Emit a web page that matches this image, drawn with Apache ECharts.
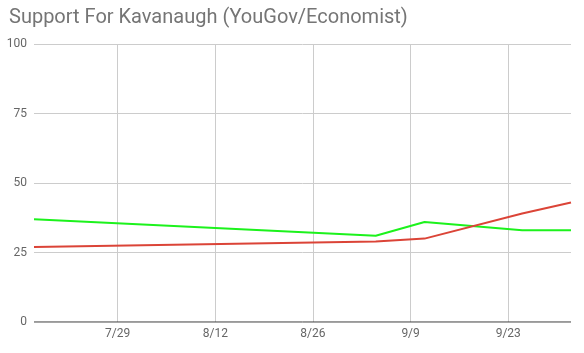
<!DOCTYPE html>
<html>
<head>
<meta charset="utf-8">
<script src="https://cdn.jsdelivr.net/npm/echarts@6/dist/echarts.min.js"></script>
<style>
  html, body { margin: 0; padding: 0; background: #fff; }
  #chart { width: 584px; height: 353px; }
</style>
</head>
<body>
<div id="chart"></div>
<script>
// poll dates (2018) and support values
const pollDates = ['2018-07-17', '2018-09-04', '2018-09-11', '2018-09-25', '2018-10-02']
const greenValues = [37, 31, 36, 33, 33]
const redValues = [27, 29, 30, 39, 43]
const tickDates = ['2018-07-29', '2018-08-12', '2018-08-26', '2018-09-09', '2018-09-23']
const yTicks = [0, 25, 50, 75, 100]

// x positions are whole days counted from the first tick date
const DAY = 86400000
const toTime = s => {
  const p = s.split('-').map(Number)
  return Date.UTC(p[0], p[1] - 1, p[2])
}
const origin = toTime(tickDates[0])
const toDay = s => Math.round((toTime(s) - origin) / DAY)
const tickDays = tickDates.map(toDay)
const fmtDay = v => {
  const d = new Date(origin + v * DAY)
  return (d.getUTCMonth() + 1) + '/' + d.getUTCDate()
}

const chart = echarts.init(document.getElementById('chart'))
chart.setOption({
  animation: false,
  title: {
    text: 'Support For Kavanaugh (YouGov/Economist)',
    left: 4,
    top: 3,
    textStyle: {
      fontFamily: 'Roboto',
      fontSize: 20,
      fontWeight: 'normal',
      color: '#757575'
    }
  },
  grid: { left: 34, right: 13, top: 44, bottom: 31, containLabel: false },
  xAxis: {
    type: 'value',
    min: toDay(pollDates[0]),
    max: toDay(pollDates[pollDates.length - 1]),
    axisLine: { show: false },
    axisTick: { show: false, customValues: tickDays },
    axisLabel: {
      customValues: tickDays,
      margin: 6,
      color: '#666',
      fontFamily: 'Roboto',
      fontSize: 12,
      formatter: fmtDay
    },
    splitLine: { show: true, lineStyle: { color: '#ccc', width: 1 } }
  },
  yAxis: {
    type: 'value',
    min: yTicks[0],
    max: yTicks[yTicks.length - 1],
    interval: 25,
    axisLine: { show: false },
    axisTick: { show: false },
    axisLabel: { margin: 7, color: '#666', fontFamily: 'Roboto', fontSize: 12 },
    splitLine: { lineStyle: { color: '#ccc', width: 1 } }
  },
  series: [
    {
      name: 'Support',
      type: 'line',
      symbol: 'none',
      data: pollDates.map((d, i) => [toDay(d), greenValues[i]]),
      lineStyle: { color: '#1cf21c', width: 2 },
      z: 3
    },
    {
      name: 'Oppose',
      type: 'line',
      symbol: 'none',
      data: pollDates.map((d, i) => [toDay(d), redValues[i]]),
      lineStyle: { color: '#db4437', width: 2 },
      z: 4
    },
    {
      // dark baseline at zero
      type: 'line',
      symbol: 'none',
      silent: true,
      data: [[toDay(pollDates[0]), 0], [toDay(pollDates[pollDates.length - 1]), 0]],
      lineStyle: { color: '#333', width: 1 },
      z: 2
    }
  ]
})
</script>
</body>
</html>
